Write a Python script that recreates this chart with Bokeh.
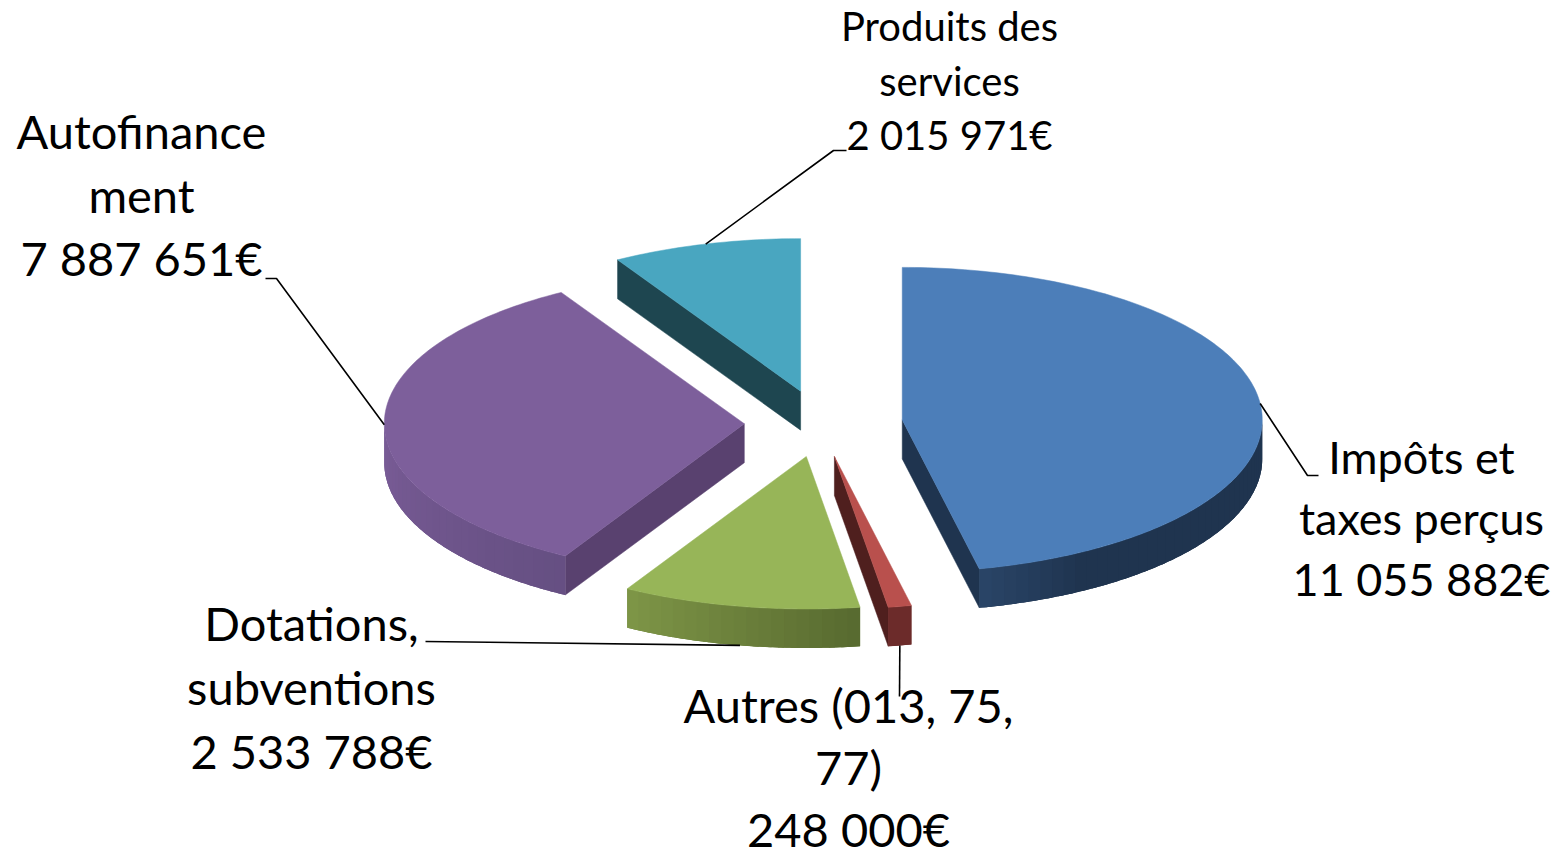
import numpy as np
from bokeh.plotting import figure
from bokeh.models import Range1d
from bokeh.core.properties import value
from bokeh.embed import file_html
from bokeh.resources import INLINE

# ---- data ----
categories = ["Impôts et taxes perçus", "Autres (013, 75, 77)", "Dotations, subventions",
              "Autofinancement", "Produits des services"]
amounts = [11055882, 248000, 2533788, 7887651, 2015971]
label_lines = [
    ["Impôts et", "taxes perçus", "11 055 882€"],
    ["Autres (013, 75,", "77)", "248 000€"],
    ["Dotations,", "subventions", "2 533 788€"],
    ["Autofinance", "ment", "7 887 651€"],
    ["Produits des", "services", "2 015 971€"],
]

# ---- geometry / style ----
W, H = 1565, 858
CX, CY, RX, RY, DEPTH, EXPLODE = 823.0, 423.0, 360.0, 152.5, 39.0, 0.22
NUDGE = [0.0, -3.5, -2.6, 0.0, -2.0]
STYLE = [
    dict(top="#4C7EB9", cut="#1F344F", wall=[(90, "#1F344F"), (150, "#1F344F"), (168, "#2A4568")]),
    dict(top="#B9504D", cut="#4F1F1E", wall=[(167, "#6C2B2A"), (172, "#6C2B2A")]),
    dict(top="#97B558", cut="#57692F", wall=[(171, "#57692F"), (210, "#7E9647")]),
    dict(top="#7D5F9B", cut="#59416F", wall=[(209, "#654F82"), (270, "#7A5C97")]),
    dict(top="#49A6C0", cut="#1E4650", wall=[(270, "#1E4650"), (360, "#1E4650")]),
]
LABEL = [
    dict(x=1421, ys=[456, 517, 578], size=45, elbow=[(1307, 475), (1318, 475)]),
    dict(x=848, ys=[704, 766, 828], size=47, elbow=[(899, 696)]),
    dict(x=311, ys=[622, 686, 750], size=47, elbow=[(425, 641)]),
    dict(x=141, ys=[130, 194, 257], size=47, elbow=[(276, 278), (265, 278)]),
    dict(x=949, ys=[25, 80, 134], size=40, elbow=[(833, 150), (846, 150)]),
]


def hex2rgb(h):
    return np.array([int(h[i:i + 2], 16) for i in (1, 3, 5)], dtype=float)


def wall_colour(stops, t):
    ts = [s[0] for s in stops]
    rgb = [np.interp(t, ts, [hex2rgb(s[1])[k] for s in stops]) for k in range(3)]
    return "#%02x%02x%02x" % tuple(int(round(c)) for c in rgb)


def rim(ax, ay, t):
    r = np.radians(t)
    return ax + RX * np.sin(r), ay - RY * np.cos(r)


total = sum(amounts)
edges = np.concatenate([[0.0], np.cumsum(amounts) / total * 360.0])

p = figure(width=W, height=H, output_backend="svg", toolbar_location=None,
           x_range=Range1d(0, W), y_range=Range1d(H, 0), min_border=0)
p.axis.visible = False
p.grid.visible = False
p.outline_line_color = None
p.background_fill_color = "white"

slices = []
for i, cat in enumerate(categories):
    t0, t1 = edges[i], edges[i + 1]
    mid = np.radians((t0 + t1) / 2)
    ax = CX + EXPLODE * RX * np.sin(mid) + NUDGE[i]
    ay = CY - EXPLODE * RY * np.cos(mid)
    slices.append((i, t0, t1, ax, ay))

# back slices first
for i, t0, t1, ax, ay in sorted(slices, key=lambda s: s[4]):
    st = STYLE[i]
    # cut faces
    for t, visible in ((t1, np.sin(np.radians(t1)) > 1e-6), (t0, np.sin(np.radians(t0)) < -1e-6)):
        if visible:
            ex, ey = rim(ax, ay, t)
            p.patch([ax, ex, ex, ax], [ay, ey, ey + DEPTH, ay + DEPTH],
                    fill_color=st["cut"], line_color=st["cut"], line_width=0.5)
    # outer wall: a base shape, then strips that overlap to carry the shading
    a, b = max(t0, 90.0), min(t1, 270.0)
    if b > a:
        tt = np.linspace(a, b, int(b - a) + 2)
        ex, ey = rim(ax, ay, tt)
        base = wall_colour(st["wall"], (a + b) / 2)
        p.patch(list(ex) + list(ex[::-1]), list(ey) + list((ey + DEPTH)[::-1]),
                fill_color=base, line_color=None)
        xs, ys, cs = [], [], []
        ticks = np.linspace(a, b, max(2, int((b - a) / 2) + 1))
        for u, v in zip(ticks[:-1], ticks[1:]):
            tt = np.linspace(u, min(b, v + 1.0), 6)
            ex, ey = rim(ax, ay, tt)
            xs.append(list(ex) + list(ex[::-1]))
            ys.append(list(ey) + list((ey + DEPTH)[::-1]))
            cs.append(wall_colour(st["wall"], (u + v) / 2))
        p.patches(xs, ys, fill_color=cs, line_color=None)
    # top face
    tt = np.linspace(t0, t1, max(3, int(t1 - t0) + 2))
    ex, ey = rim(ax, ay, tt)
    p.patch([ax] + list(ex), [ay] + list(ey), fill_color=st["top"], line_color=st["top"], line_width=0.5)

# leader lines and labels
for i, t0, t1, ax, ay in slices:
    lab = LABEL[i]
    m = (t0 + t1) / 2
    sx, sy = rim(ax, ay, m)
    if np.cos(np.radians(m)) < -0.5:
        sy += DEPTH
    lx = [sx] + [e[0] for e in lab["elbow"]]
    ly = [sy] + [e[1] for e in lab["elbow"]]
    p.line(lx, ly, line_color="black", line_width=1.6)
    p.text([lab["x"]] * 3, lab["ys"], text=label_lines[i], text_align="center",
           text_baseline="alphabetic", text_color="black",
           text_font=value("Lato"), text_font_size=f"{lab['size']}px")

open("out.html", "w").write(file_html(p, INLINE))
